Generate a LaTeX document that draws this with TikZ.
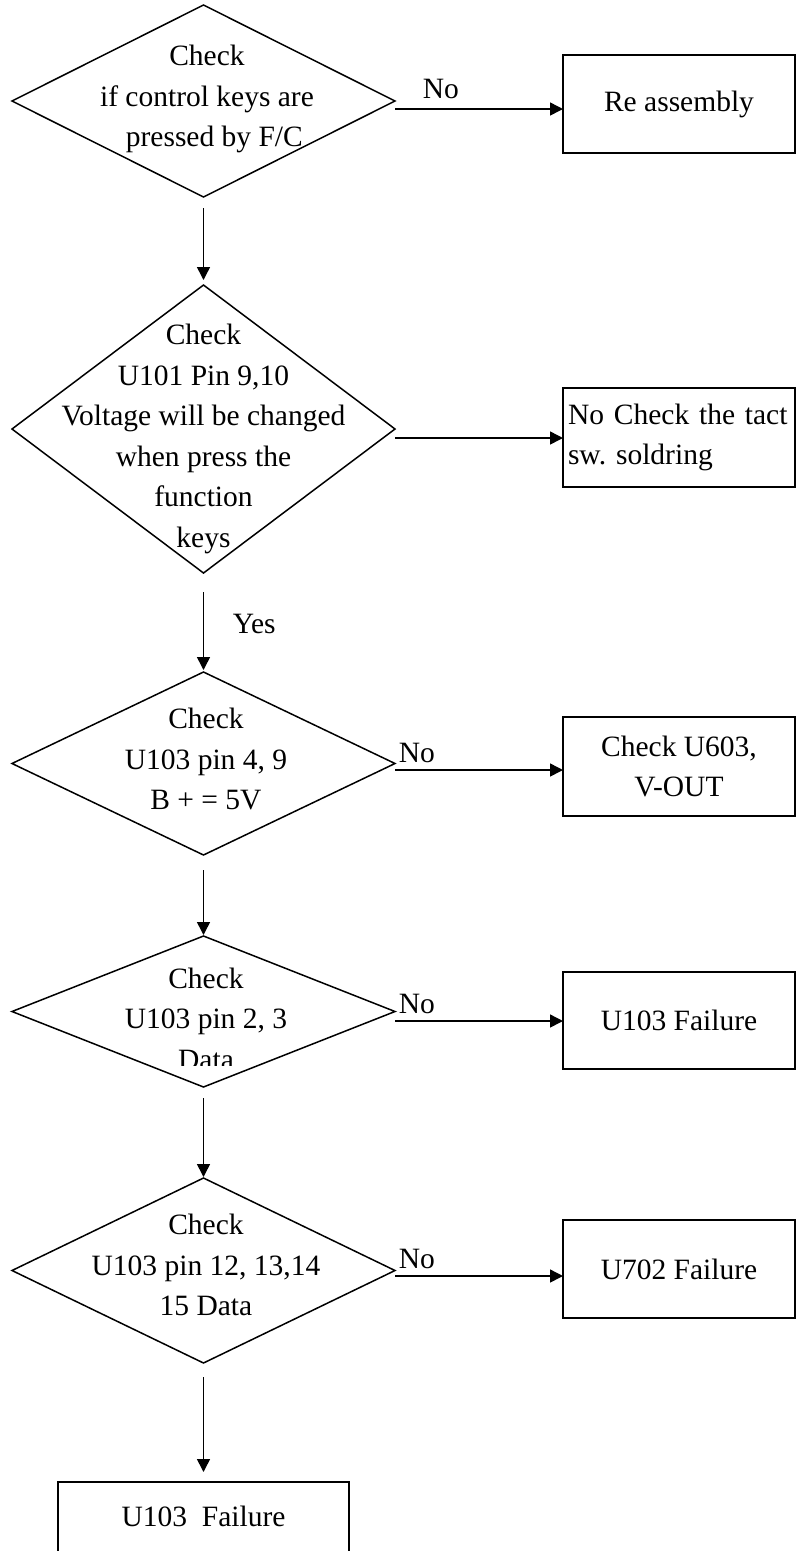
\documentclass[tikz,border=0pt]{standalone}
\usepackage{fontspec}
\setmainfont{Liberation Serif}
\usepackage{tikz}
\usetikzlibrary{shapes.geometric,arrows.meta,positioning}

\newcommand{\flowfont}{\fontsize{29.5}{40.5}\selectfont\frenchspacing}

\begin{document}
\begin{tikzpicture}[x=1pt,y=-1pt,
    line width=1.5pt,
    dia/.style={diamond,draw,inner sep=0pt,outer sep=0pt,minimum width=383pt},
    box/.style={rectangle,draw,inner sep=5pt,outer sep=0pt,minimum width=232pt,font=\flowfont,align=center},
    txt/.style={inner sep=0pt,font=\flowfont,align=center},
    lbl/.style={inner sep=0pt,font=\flowfont},
    arr/.style={-{Triangle[length=13pt,width=13pt]}}]

    \useasboundingbox (0,0) rectangle (796,1551);

    % diamonds (x from 12 to 395)
    \node[dia,minimum height=192pt] (d1) at (203.5,101) {};
    \node[dia,minimum height=288pt] (d2) at (203.5,429) {};
    \node[dia,minimum height=183pt] (d3) at (203.5,763.5) {};
    \node[dia,minimum height=151pt] (d4) at (203.5,1011.5) {};
    \node[dia,minimum height=185pt] (d5) at (203.5,1270.5) {};

    % text inside the diamonds
    \node[txt] (t1) at (207,99) {Check\\if control keys are\\~~pressed by F/C};
    \node[txt] (t2) at (203.5,439) {Check\\U101 Pin 9,10\\Voltage will be changed\\when press the\\function\\keys};
    \node[txt] (t3) at (206,759) {Check\\U103 pin 4, 9\\B + = 5V};
    \begin{scope}
        \clip (0,0) rectangle (796,1065);
        \node[txt] (t4) at (206,1018.5) {Check\\U103 pin 2, 3\\Data};
    \end{scope}
    \node[txt] (t5) at (206,1265) {Check\\U103 pin 12, 13,14\\15 Data};

    % boxes on the right (x from 563 to 795)
    \node[box,minimum height=98pt] (r1) at (679,104) {Re assembly};
    \node[box,minimum height=99pt,text width=222pt,align=left] (r2) at (679,437.5) {No Check the tact\\sw. soldring};
    \node[box,minimum height=99pt] (r3) at (679,766.5) {Check U603,\\V-OUT};
    \node[box,minimum height=97pt] (r4) at (679,1020.5) {U103 Failure};
    \node[box,minimum height=98pt] (r5) at (679,1269) {U702 Failure};

    % last box, cut by the page edge
    \node[box,anchor=north,minimum width=291pt,minimum height=110pt] (r6) at (203.5,1482) {};
    \node[lbl] (t6) at (203.5,1516) {U103~~Failure};

    % labels
    \node[lbl,anchor=base west] (n1) at (422,98) {No};
    \node[lbl,anchor=base west] (y2) at (232,633) {Yes};
    \node[lbl,anchor=base west] (n3) at (398,762) {No};
    \node[lbl,anchor=base west] (n4) at (398,1013) {No};
    \node[lbl,anchor=base west] (n5) at (398,1268) {No};

    % horizontal arrows
    \draw[arr] ([yshift=-8pt]d1.east) -- ([yshift=-8pt]d1.east -| r1.west);
    \draw[arr] ([yshift=-9pt]d2.east) -- ([yshift=-9pt]d2.east -| r2.west);
    \draw[arr] ([yshift=-6.5pt]d3.east) -- ([yshift=-6.5pt]d3.east -| r3.west);
    \draw[arr] ([yshift=-9.5pt]d4.east) -- ([yshift=-9.5pt]d4.east -| r4.west);
    \draw[arr] ([yshift=-5.5pt]d5.east) -- ([yshift=-5.5pt]d5.east -| r5.west);

    % vertical arrows
    \draw[arr,shorten <=11pt,shorten >=5pt] (d1.south) -- (d2.north);
    \draw[arr,shorten <=19pt,shorten >=2pt] (d2.south) -- (d3.north);
    \draw[arr,shorten <=15pt,shorten >=1pt] (d3.south) -- (d4.north);
    \draw[arr,shorten <=11pt,shorten >=1pt] (d4.south) -- (d5.north);
    \draw[arr,shorten <=14pt,shorten >=10pt] (d5.south) -- (r6.north);
\end{tikzpicture}
\end{document}
